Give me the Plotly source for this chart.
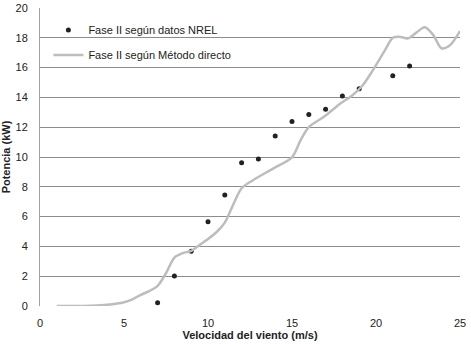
import plotly.graph_objects as go

# NREL data points
nrel_x = [7, 8, 9, 10, 11, 12, 13, 14, 15, 16, 17, 18, 19, 21, 22]
nrel_y = [0.22, 2.01, 3.67, 5.66, 7.45, 9.62, 9.87, 11.41, 12.39, 12.86, 13.2, 14.09, 14.58, 15.46, 16.1]

# Direct method curve
direct_x = [1, 2, 3, 4, 5, 5.5, 6, 6.5, 7, 7.5, 8, 8.5, 9, 9.5, 10, 10.5, 11, 11.5, 12,
            12.7, 13.9, 15, 15.5, 16, 16.9, 17.9, 18.6, 19.2, 19.8, 20.5, 21, 21.4, 21.9,
            22.4, 22.9, 23.4, 23.9, 24.4, 25]
direct_y = [0, 0, 0.02, 0.08, 0.25, 0.45, 0.75, 1.0, 1.35, 2.2, 3.25, 3.55, 3.7, 4.1, 4.5, 4.95, 5.6, 6.8, 7.9,
            8.46, 9.24, 9.98, 11.1, 12.0, 12.7, 13.6, 14.15, 14.8, 15.8, 17.1, 18.0, 18.07, 17.96,
            18.35, 18.7, 18.2, 17.3, 17.5, 18.45]

x_ticks = [0, 5, 10, 15, 20, 25]
y_ticks = [0, 2, 4, 6, 8, 10, 12, 14, 16, 18, 20]

fig = go.Figure()
fig.add_trace(go.Scatter(
    x=nrel_x, y=nrel_y, mode="markers", name="Fase II según datos NREL",
    legendgroup="a",
    marker=dict(color="#222222", size=5),
))
fig.add_trace(go.Scatter(
    x=direct_x, y=direct_y, mode="lines", name="Fase II según Método directo",
    legendgroup="b",
    line=dict(color="#bdbdbd", width=2.5, shape="spline", smoothing=0.8),
))

fig.update_layout(
    width=471, height=346,
    margin=dict(l=40, r=11, t=8, b=40),
    paper_bgcolor="white", plot_bgcolor="white",
    font=dict(family="Liberation Sans, Arial, sans-serif", size=11, color="#222222"),
    showlegend=True,
    legend=dict(x=0.02, y=0.975, xanchor="left", yanchor="top",
                bgcolor="rgba(0,0,0,0)", font=dict(size=11, color="#222"),
                itemwidth=30, traceorder="grouped", tracegroupgap=6),
    xaxis=dict(range=[0, 25], tickvals=x_ticks, showgrid=False, zeroline=False,
               showline=False, ticks="", automargin=False, ticklabelstandoff=9,
               title=dict(text="<b>Velocidad del viento (m/s)</b>", font=dict(size=11), standoff=3)),
    yaxis=dict(range=[0, 20], tickvals=y_ticks, showgrid=True, gridcolor="#8c8c8c",
               gridwidth=1, zeroline=False, showline=True, linecolor="#a0a0a0",
               linewidth=1, ticks="", automargin=False, ticklabelstandoff=9,
               title=dict(text="<b>Potencia (kW)</b>", font=dict(size=11), standoff=3)),
)

fig.write_html("out.html", config={"displayModeBar": False},
               post_script="document.body.style.margin='0';")
